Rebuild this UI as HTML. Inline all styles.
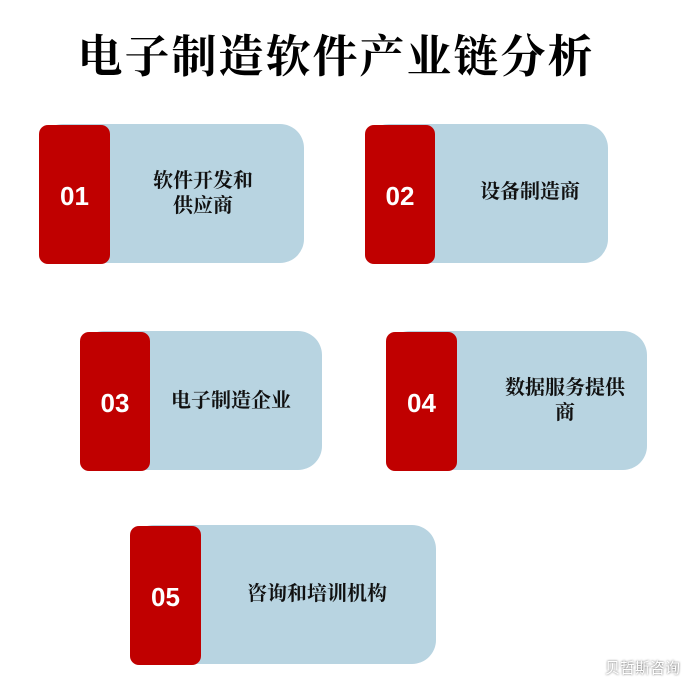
<!DOCTYPE html>
<html><head><meta charset="utf-8"><style>
body{margin:0;width:688px;height:682px;background:#fff;position:relative;overflow:hidden}
.t{position:absolute;left:-8px;width:688px;top:20px;text-align:center;font:bold 45px "Liberation Serif","Noto Serif CJK SC",serif;color:#000;letter-spacing:2px}
.b{position:absolute;background:#b8d4e1;border-radius:24px}
.r{position:absolute;background:#c00000;border-radius:9px;color:#fff;font:bold 26px "Liberation Sans","DejaVu Sans",sans-serif;display:flex;align-items:center;justify-content:center;padding-top:4px;box-sizing:border-box}
.l{position:absolute;font:bold 20px "Liberation Serif","Noto Serif CJK SC",serif;color:#111;text-align:center;line-height:25px;white-space:nowrap}
.w{position:absolute;right:8px;bottom:4px;font:15px "Noto Sans CJK SC",sans-serif;color:#fff;text-shadow:0 0 2px #555}
</style></head><body>
<div class="t">电子制造软件产业链分析</div>

<div class="b" style="left:39px;top:124px;width:265px;height:139px"></div>
<div class="r" style="left:39px;top:125px;width:71px;height:139px">01</div>
<div class="l" style="left:108px;width:190px;top:169px">软件开发和<br>供应商</div>

<div class="b" style="left:365px;top:124px;width:243px;height:139px"></div>
<div class="r" style="left:365px;top:125px;width:70px;height:139px">02</div>
<div class="l" style="left:435px;width:190px;top:180px">设备制造商</div>

<div class="b" style="left:80px;top:331px;width:242px;height:139px"></div>
<div class="r" style="left:80px;top:332px;width:70px;height:139px">03</div>
<div class="l" style="left:136px;width:190px;top:389px">电子制造企业</div>

<div class="b" style="left:386px;top:331px;width:261px;height:139px"></div>
<div class="r" style="left:386px;top:332px;width:71px;height:139px">04</div>
<div class="l" style="left:470px;width:190px;top:376px">数据服务提供<br>商</div>

<div class="b" style="left:130px;top:525px;width:306px;height:139px"></div>
<div class="r" style="left:130px;top:526px;width:71px;height:139px">05</div>
<div class="l" style="left:222px;width:190px;top:582px">咨询和培训机构</div>

<div class="w">贝哲斯咨询</div>
</body></html>
